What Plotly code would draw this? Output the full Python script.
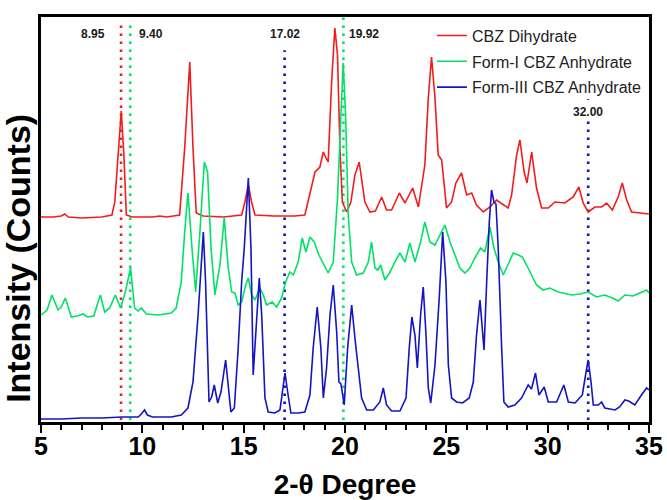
import plotly.graph_objects as go

# ---------------- data ----------------
dihydrate_x = [5.0, 5.6, 6.0, 6.17, 6.35, 7.0, 8.0, 8.5, 8.64, 8.80,
               8.96, 9.09, 9.21, 9.5, 10.5, 10.86, 11.2, 11.84, 12.09, 12.34,
               12.5, 12.66, 13.0, 14.0, 14.90, 15.06, 15.23, 15.39, 15.56, 16.5,
               17.5, 18.02, 18.27, 18.52, 18.76, 18.93, 19.04, 19.17, 19.34, 19.50,
               19.63, 19.75, 19.87, 20.08, 20.29, 20.49, 20.70, 20.98, 21.23, 21.50,
               21.81, 22.05, 22.30, 22.68, 22.96, 23.34, 23.62, 23.94, 24.11, 24.27,
               24.44, 24.60, 24.77, 25.01, 25.26, 25.47, 25.75, 26.00, 26.25, 26.49,
               26.82, 27.15, 27.48, 27.81, 28.05, 28.22, 28.47, 28.63, 28.84, 28.98,
               29.21, 29.45, 29.70, 30.03, 30.36, 30.85, 31.26, 31.54, 31.75, 32.00,
               32.33, 32.66, 32.91, 33.19, 33.48, 33.68, 33.90, 34.14, 35.0]
dihydrate_y = [205, 205, 206, 208, 205, 204, 205, 207, 220, 267,
               311, 267, 207, 205, 205, 206, 205, 207, 274, 360,
               274, 209, 206, 205, 207, 220, 237, 220, 207, 206,
               206, 207, 227, 250, 255, 270, 265, 260, 340, 394,
               367, 274, 220, 210, 220, 247, 260, 220, 210, 211,
               225, 212, 212, 229, 219, 234, 215, 257, 324, 365,
               324, 267, 262, 214, 220, 239, 249, 227, 229, 217,
               210, 215, 222, 217, 214, 227, 267, 282, 250, 239,
               270, 234, 214, 214, 220, 219, 225, 235, 219, 210,
               215, 215, 219, 212, 225, 239, 222, 210, 208]

form1_x = [5.0, 5.3, 5.54, 5.84, 6.0, 6.20, 6.50, 6.8, 7.07, 7.3,
           7.6, 7.93, 8.14, 8.39, 8.67, 8.93, 9.16, 9.42, 9.62, 9.79,
           9.95, 10.20, 10.8, 11.43, 11.67, 11.92, 12.09, 12.25, 12.45, 12.63,
           12.84, 13.06, 13.22, 13.39, 13.58, 13.83, 14.04, 14.24, 14.41, 14.57,
           14.73, 14.90, 15.10, 15.23, 15.39, 15.56, 15.80, 15.97, 16.13, 16.41,
           16.63, 16.87, 17.07, 17.28, 17.45, 17.69, 17.89, 18.07, 18.27, 18.48,
           18.71, 18.93, 19.17, 19.42, 19.63, 19.80, 19.91, 20.03, 20.16, 20.33,
           20.57, 20.90, 21.15, 21.31, 21.48, 21.62, 21.76, 21.97, 22.22, 22.46,
           22.71, 22.96, 23.20, 23.45, 23.73, 23.94, 24.19, 24.44, 24.65, 24.93,
           25.18, 25.42, 25.67, 25.92, 26.16, 26.41, 26.69, 26.90, 27.15, 27.35,
           27.56, 27.81, 28.05, 28.30, 28.55, 28.75, 28.96, 29.21, 29.45, 29.78,
           30.11, 30.52, 31.18, 31.6, 32.00, 32.41, 32.82, 33.2, 33.48, 33.81,
           34.2, 34.55, 34.88, 35.0]
form1_y = [107, 112, 127, 112, 115, 124, 105, 106, 108, 105,
           106, 127, 110, 114, 127, 114, 130, 154, 114, 111,
           114, 108, 107, 109, 114, 140, 190, 229, 174, 130,
           190, 260, 250, 174, 127, 157, 204, 154, 130, 129,
           117, 120, 137, 144, 127, 122, 134, 127, 117, 120,
           115, 124, 140, 150, 147, 160, 184, 170, 185, 180,
           167, 159, 149, 160, 224, 307, 359, 307, 207, 160,
           147, 149, 160, 180, 154, 152, 157, 142, 150, 160,
           169, 160, 179, 160, 180, 200, 180, 177, 185, 197,
           180, 167, 154, 149, 154, 164, 174, 170, 195, 174,
           160, 147, 157, 169, 167, 165, 157, 147, 137, 132,
           134, 130, 127, 128, 130, 125, 127, 124, 121, 127,
           126, 129, 132, 129]

form3_x = [5.0, 6.0, 7.0, 8.0, 9.0, 9.8, 9.95, 10.11, 10.25, 10.5,
           11.43, 11.92, 12.25, 12.50, 12.75, 12.94, 13.01, 13.12, 13.29, 13.42,
           13.55, 13.72, 13.88, 14.11, 14.24, 14.37, 14.54, 14.73, 14.90, 15.03,
           15.23, 15.36, 15.47, 15.64, 15.77, 15.89, 16.05, 16.21, 16.54, 16.79,
           16.92, 17.04, 17.17, 17.33, 17.7, 18.02, 18.27, 18.43, 18.63, 18.81,
           18.93, 19.09, 19.26, 19.42, 19.59, 19.70, 19.80, 19.96, 20.13, 20.33,
           20.50, 20.66, 20.82, 21.07, 21.4, 21.72, 21.89, 22.05, 22.30, 22.71,
           23.01, 23.17, 23.30, 23.45, 23.57, 23.73, 23.86, 23.99, 24.11, 24.23,
           24.44, 24.65, 24.82, 24.98, 25.10, 25.26, 25.51, 25.8, 26.13, 26.33,
           26.49, 26.66, 26.77, 26.86, 26.99, 27.12, 27.23, 27.35, 27.45, 27.56,
           27.73, 27.84, 28.05, 28.38, 28.71, 29.04, 29.2, 29.40, 29.57, 29.83,
           30.03, 30.44, 30.80, 31.02, 31.35, 31.71, 31.87, 32.00, 32.14, 32.25,
           32.50, 32.66, 32.82, 33.32, 33.55, 33.81, 34.0, 34.30, 34.63, 34.88,
           35.0]
form3_y = [3, 3, 4, 4, 5, 5, 8, 12, 7, 5,
           5, 7, 14, 40, 107, 170, 190, 140, 20, 25,
           37, 19, 30, 62, 34, 10, 14, 74, 140, 174,
           244, 174, 47, 107, 144, 107, 24, 10, 9, 12,
           34, 49, 30, 9, 9, 10, 27, 74, 115, 74,
           24, 54, 107, 137, 90, 40, 38, 17, 74, 117,
           82, 55, 24, 12, 12, 20, 34, 17, 11, 11,
           24, 74, 105, 87, 54, 107, 135, 90, 34, 19,
           57, 124, 190, 140, 57, 24, 20, 19, 24, 40,
           87, 122, 94, 72, 140, 200, 232, 220, 218, 174,
           74, 20, 15, 17, 24, 37, 33, 49, 27, 35,
           20, 20, 37, 20, 19, 27, 47, 62, 40, 17,
           17, 20, 14, 12, 15, 22, 21, 17, 27, 34,
           32]

series_names = ["CBZ Dihydrate", "Form-I CBZ Anhydrate", "Form-III CBZ Anhydrate"]
series_colors = ["#f21c1c", "#00e266", "#1414c4"]

marker_positions = [8.95, 9.40, 17.02, 19.92, 32.00]
marker_labels = ["8.95", "9.40", "17.02", "19.92", "32.00"]
marker_colors = ["#f21c1c", "#00e266", "#1010b0", "#00e266", "#1010b0"]

x_ticks = [5, 10, 15, 20, 25, 30, 35]

assert len(dihydrate_x) == len(dihydrate_y)
assert len(form1_x) == len(form1_y)
assert len(form3_x) == len(form3_y)

# ---------------- figure ----------------
FONT = "Liberation Sans, Arial, sans-serif"
fig = go.Figure()

# marker lines (drawn below traces)
line_tops = [0.98, 0.98, 0.918, 1.0, 0.797]   # paper fraction
line_bottom = 0.005
label_y = [0.958, 0.958, 0.958, 0.958, 0.765]
label_shift = [-28, 21, 0, 21, 0]
for pos, lab, col, top, ly, sh in zip(marker_positions, marker_labels, marker_colors,
                                      line_tops, label_y, label_shift):
    fig.add_shape(type="line", xref="x", yref="paper", x0=pos, x1=pos,
                  y0=line_bottom, y1=top, layer="below",
                  line=dict(color=col, width=2.6, dash="2.6px,5.4px"))
    fig.add_annotation(x=pos, y=ly, xref="x", yref="paper", text=lab,
                       showarrow=False, xshift=sh, bgcolor="white",
                       xanchor="center", yanchor="middle",
                       font=dict(family=FONT, size=12, color="#1a1a1a", weight="bold"))

for xs, ys, name, col in zip([dihydrate_x, form1_x, form3_x],
                             [dihydrate_y, form1_y, form3_y],
                             series_names, series_colors):
    fig.add_trace(go.Scatter(x=xs, y=ys, mode="lines", name=name, legendgroup=name,
                             line=dict(color=col, width=1.6)))

# y-axis title (placed as rotated text, centred where the reference has it)
fig.add_annotation(text="Intensity (Counts)", xref="paper", yref="paper",
                   x=-0.038, y=0.405, textangle=-90, showarrow=False,
                   xanchor="center", yanchor="middle",
                   font=dict(family=FONT, size=34, color="black", weight="bold"))

fig.update_layout(
    width=667, height=500,
    margin=dict(l=41, r=18, t=17, b=78, autoexpand=False),
    paper_bgcolor="white", plot_bgcolor="white",
    showlegend=True,
    legend=dict(x=0.643, y=0.996, xanchor="left", yanchor="top",
                bgcolor="rgba(0,0,0,0)", borderwidth=0,
                font=dict(family=FONT, size=16, color="#222222"),
                tracegroupgap=2),
    xaxis=dict(range=[5, 35], tickmode="array", tickvals=x_ticks,
               ticktext=[str(t) for t in x_ticks], automargin=False,
               ticks="outside", ticklen=8, tickwidth=2, tickcolor="black",
               ticklabelstandoff=-8,
               minor=dict(dtick=1, tick0=5, ticks="outside", ticklen=5,
                          tickwidth=2, tickcolor="black"),
               showline=True, linecolor="black", linewidth=2.5, mirror=True,
               showgrid=False, zeroline=False,
               tickfont=dict(family=FONT, size=25, color="black", weight="bold"),
               title=dict(text="2-θ Degree", standoff=27,
                          font=dict(family=FONT, size=28, color="black", weight="bold"))),
    yaxis=dict(range=[0, 405], showticklabels=False, ticks="", automargin=False,
               showline=True, linecolor="black", linewidth=2.5, mirror=True,
               showgrid=False, zeroline=False),
)

fig.write_html("out.html")
